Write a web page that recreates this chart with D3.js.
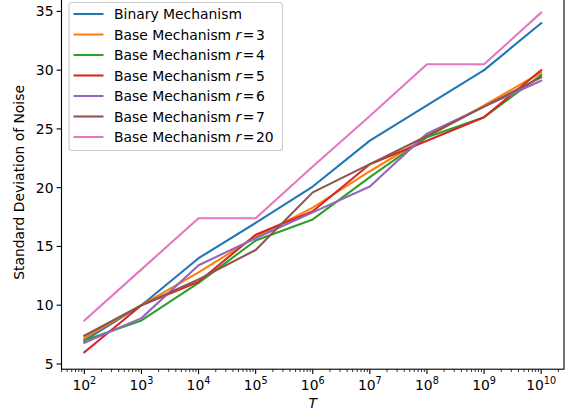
<!DOCTYPE html>
<html><head><meta charset="utf-8">
<script src="https://cdn.jsdelivr.net/npm/d3@7"></script>
<style>body{margin:0;background:#fff}svg{display:block}text{font-family:"DejaVu Sans",sans-serif}</style>
</head><body><svg id="c" width="570" height="412"></svg>
<script>
const exponents = [2,3,4,5,6,7,8,9,10];
const seriesNames = ["Binary Mechanism","Base Mechanism r = 3","Base Mechanism r = 4","Base Mechanism r = 5","Base Mechanism r = 6","Base Mechanism r = 7","Base Mechanism r = 20"];
const rValues = [null,"3","4","5","6","7","20"];
const binary = [7.0,10.0,14.0,17.0,20.1,24.0,27.0,30.0,34.0];
const base3  = [7.2,10.0,12.8,15.8,18.3,21.4,24.3,27.0,29.8];
const base4  = [7.0,8.7,11.9,15.5,17.3,20.9,24.3,26.0,29.6];
const base5  = [6.0,10.0,12.0,16.0,18.0,22.0,24.0,26.0,30.0];
const base6  = [6.8,8.9,13.4,15.7,17.9,20.1,24.6,26.9,29.1];
const base7  = [7.4,10.0,12.2,14.7,19.6,22.0,24.4,26.9,29.4];
const base20 = [8.7,13.05,17.4,17.4,21.8,26.1,30.5,30.5,34.9];
const yTicks = [5,10,15,20,25,30,35];
const colors = ["#1f77b4","#ff7f0e","#2ca02c","#d62728","#9467bd","#8c564b","#e377c2"];
const allSeries = [binary,base3,base4,base5,base6,base7,base20];

const svg = d3.select("#c");
const L=61.5,R=564,T=-4.4,B=369.2;
const xs = exponents.map(e=>Math.pow(10,e));
const lx0=Math.log10(d3.min(xs)), lx1=Math.log10(d3.max(xs)), mx=(lx1-lx0)*0.05;
const x = d3.scaleLog().domain([Math.pow(10,lx0-mx),Math.pow(10,lx1+mx)]).range([L,R]);
const allV = allSeries.flat();
const ymin=d3.min(allV), ymax=d3.max(allV), my=(ymax-ymin)*0.05;
const y = d3.scaleLinear().domain([ymin-my,ymax+my]).range([B,T]);

const g = svg.append("g");
// lines
const line = d3.line().x((d,i)=>x(xs[i])).y(d=>y(d));
allSeries.forEach((s,i)=>{
  g.append("path").datum(s).attr("d",line).attr("fill","none")
   .attr("stroke",colors[i]).attr("stroke-width",2.08).attr("stroke-linecap","square").attr("stroke-linejoin","round");
});
// spines
g.append("rect").attr("x",L).attr("y",T).attr("width",R-L).attr("height",B-T)
 .attr("fill","none").attr("stroke","#000").attr("stroke-width",1.1);

// x ticks
const [d0,d1]=x.domain();
const minor=[];
for(let e=1;e<=11;e++){for(let m=2;m<=9;m++){const v=m*Math.pow(10,e); if(v>=d0&&v<=d1) minor.push(v);}}
g.selectAll(".mn").data(minor).enter().append("line")
 .attr("x1",d=>x(d)).attr("x2",d=>x(d)).attr("y1",B).attr("y2",B+2.8)
 .attr("stroke","#000").attr("stroke-width",0.8);
exponents.forEach((e,i)=>{
  const px=x(xs[i]);
  g.append("line").attr("x1",px).attr("x2",px).attr("y1",B).attr("y2",B+4.9).attr("stroke","#000").attr("stroke-width",1.1);
  const t=g.append("text").attr("x",px).attr("y",B+20.5).attr("text-anchor","middle").attr("font-size",13.9).attr("fill","#000");
  t.append("tspan").text("10");
  t.append("tspan").attr("font-size",9.7).attr("dy",-5.5).text(String(e));
});
// y ticks
yTicks.forEach(v=>{
  const py=y(v);
  g.append("line").attr("x1",L-4.9).attr("x2",L).attr("y1",py).attr("y2",py).attr("stroke","#000").attr("stroke-width",1.1);
  g.append("text").attr("x",L-8).attr("y",py).attr("dy","0.36em").attr("text-anchor","end").attr("font-size",13.9).text(v);
});
// axis labels
g.append("text").attr("x",(L+R)/2).attr("y",408).attr("text-anchor","middle").attr("font-size",13.9).attr("font-style","italic").text("T");
g.append("text").attr("transform",`translate(24,${(T+B)/2}) rotate(-90)`).attr("text-anchor","middle").attr("font-size",13.9).text("Standard Deviation of Noise");

// legend
const lg=svg.append("g");
lg.append("rect").attr("x",69).attr("y",2.5).attr("width",213.5).attr("height",148).attr("rx",3)
  .attr("fill","#fff").attr("fill-opacity",0.8).attr("stroke","#cccccc").attr("stroke-width",1.1);
seriesNames.forEach((n,i)=>{
  const cy=14+i*20.5;
  lg.append("line").attr("x1",73.5).attr("x2",103.5).attr("y1",cy).attr("y2",cy).attr("stroke",colors[i]).attr("stroke-width",2.08);
  const t=lg.append("text").attr("x",114).attr("y",cy).attr("dy","0.36em").attr("font-size",13.9);
  if(rValues[i]===null){t.text(n);}
  else{
    t.append("tspan").text("Base Mechanism ");
    t.append("tspan").attr("font-style","italic").text("r");
    t.append("tspan").attr("dx",1.5).text("=");
    t.append("tspan").attr("dx",1.5).text(rValues[i]);
  }
});
</script></body></html>
